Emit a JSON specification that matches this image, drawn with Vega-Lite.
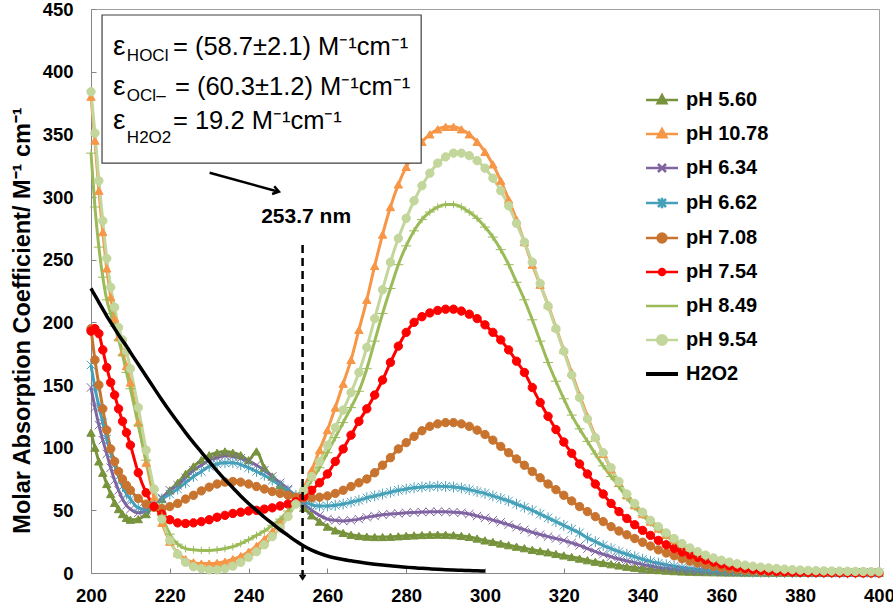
{
"$schema": "https://vega.github.io/schema/vega-lite/v6.json",
"width": 788, "height": 564,
"autosize": {"type": "none"},
"padding": {"left": 91, "top": 9, "right": 14, "bottom": 39},
"background": "white",
"config": {
  "view": {"stroke": "#a0a0a0"},
  "font": "Liberation Sans",
  "axis": {"labelFont": "Liberation Sans", "labelFontWeight": "bold", "labelFontSize": 18.5, "labelColor": "black", "domainColor": "#868686", "tickColor": "#868686", "grid": false, "titleFont": "Liberation Sans"}
},
"datasets": {
"spec": [
{"w":200,"a":112,"b":380,"c":148,"d":166,"e":195,"f":193,"g":335,"h":384,"k":227},
{"w":201,"a":100,"b":345,"c":132,"d":148,"e":170,"f":195,"g":292,"h":351,"k":221.5},
{"w":202,"a":89,"b":305,"c":118,"d":133,"e":150,"f":191,"g":260,"h":313,"k":216},
{"w":203,"a":80,"b":272,"c":106,"d":120,"e":131,"f":178,"g":236,"h":281,"k":210.5},
{"w":204,"a":71,"b":243,"c":95,"d":107,"e":114,"f":164,"g":218,"h":251,"k":205},
{"w":205,"a":63,"b":220,"c":84,"d":96,"e":99,"f":152,"g":207,"h":228,"k":200},
{"w":206,"a":56,"b":203,"c":74,"d":86,"e":89,"f":142,"g":197,"h":212,"k":195},
{"w":207,"a":51,"b":188,"c":66,"d":77,"e":81,"f":131,"g":186,"h":196,"k":190},
{"w":208,"a":47,"b":176,"c":59,"d":69,"e":75,"f":121,"g":174,"h":186,"k":185.5},
{"w":209,"a":44,"b":165,"c":54,"d":63,"e":70,"f":112,"g":160,"h":177,"k":181},
{"w":210,"a":42.5,"b":152,"c":51,"d":59,"e":66,"f":102,"g":147,"h":163,"k":176},
{"w":212,"a":43,"b":120,"c":48,"d":52,"e":59.5,"f":80,"g":118,"h":132,"k":166.5},
{"w":214,"a":47,"b":88,"c":50,"d":51,"e":55,"f":64,"g":90,"h":98,"k":157},
{"w":216,"a":53,"b":60,"c":54,"d":54,"e":52.5,"f":53,"g":66,"h":67,"k":147.5},
{"w":218,"a":59,"b":40,"c":60,"d":59,"e":51.5,"f":47,"g":46,"h":43,"k":138},
{"w":220,"a":66,"b":25,"c":66,"d":63,"e":53,"f":42.5,"g":31,"h":26,"k":129},
{"w":222,"a":72,"b":16,"c":70,"d":67,"e":55.5,"f":40,"g":23,"h":15,"k":120.5},
{"w":224,"a":79,"b":11,"c":76,"d":72,"e":59,"f":39.5,"g":19.5,"h":8.5,"k":112},
{"w":226,"a":85,"b":8.5,"c":82,"d":77,"e":62,"f":40,"g":18.5,"h":5,"k":104},
{"w":228,"a":90,"b":7.5,"c":86,"d":81,"e":65.5,"f":41,"g":18,"h":3.5,"k":96.5},
{"w":230,"a":94,"b":7.5,"c":90,"d":85,"e":68.5,"f":42.5,"g":18,"h":2.5,"k":89},
{"w":232,"a":96,"b":8,"c":92,"d":87,"e":71,"f":44.5,"g":18.5,"h":2.5,"k":81.5},
{"w":234,"a":97,"b":9,"c":93.5,"d":88,"e":72.5,"f":46,"g":19.5,"h":3.5,"k":74.5},
{"w":236,"a":96,"b":11,"c":93,"d":88,"e":73,"f":47.5,"g":21,"h":5.5,"k":68},
{"w":238,"a":94,"b":13.5,"c":91.5,"d":86.5,"e":72.5,"f":48.5,"g":23.5,"h":8.5,"k":61.5},
{"w":240,"a":90,"b":17,"c":89,"d":84,"e":71,"f":49.5,"g":26.5,"h":12.5,"k":55.5},
{"w":242,"a":97,"b":21.5,"c":86,"d":81,"e":69,"f":50,"g":30,"h":17,"k":50},
{"w":244,"a":84,"b":27,"c":82,"d":78,"e":67,"f":51,"g":33.5,"h":22.5,"k":44.5},
{"w":246,"a":77,"b":33,"c":77,"d":74,"e":65,"f":52,"g":38,"h":29,"k":39.5},
{"w":248,"a":70,"b":40,"c":72,"d":70,"e":63.5,"f":53.5,"g":43,"h":36,"k":34.5},
{"w":250,"a":64,"b":48,"c":67,"d":66,"e":62,"f":55,"g":49.5,"h":45,"k":30},
{"w":252,"a":58,"b":58,"c":61,"d":62,"e":60.5,"f":57,"g":56,"h":55,"k":25.5},
{"w":254,"a":52,"b":68,"c":55,"d":57,"e":60,"f":61,"g":64,"h":66,"k":21.5},
{"w":256,"a":46,"b":82,"c":50,"d":54.5,"e":60,"f":66,"g":74,"h":77,"k":18.3},
{"w":258,"a":41,"b":98,"c":46,"d":53.5,"e":60.5,"f":72,"g":84,"h":89,"k":15.7},
{"w":260,"a":37,"b":114,"c":43,"d":53.5,"e":61.5,"f":79,"g":96,"h":102,"k":13.6},
{"w":262,"a":34,"b":132,"c":42,"d":54,"e":63.5,"f":89,"g":108,"h":116,"k":12},
{"w":264,"a":32,"b":151,"c":41.5,"d":55,"e":66,"f":99,"g":120,"h":130,"k":10.7},
{"w":266,"a":30.5,"b":170,"c":42,"d":56.5,"e":69,"f":110,"g":132,"h":144,"k":9.7},
{"w":268,"a":29.5,"b":194,"c":43,"d":58,"e":72,"f":121,"g":145,"h":160,"k":8.7},
{"w":270,"a":29,"b":218,"c":44.5,"d":60,"e":75,"f":131,"g":163,"h":180,"k":7.8},
{"w":272,"a":28.7,"b":245,"c":45.5,"d":61.5,"e":80,"f":142,"g":185,"h":203,"k":7},
{"w":274,"a":28.7,"b":270,"c":46.5,"d":63,"e":86,"f":154,"g":207,"h":226,"k":6.3},
{"w":276,"a":28.9,"b":292,"c":47,"d":64.5,"e":92,"f":168,"g":227,"h":248,"k":5.7},
{"w":278,"a":29.3,"b":310,"c":47.5,"d":66,"e":99,"f":181,"g":246,"h":267,"k":5.1},
{"w":280,"a":29.7,"b":324,"c":48,"d":67,"e":104,"f":192,"g":261,"h":283,"k":4.6},
{"w":282,"a":30,"b":335,"c":48.3,"d":68,"e":109,"f":200,"g":273,"h":297,"k":4.1},
{"w":284,"a":30.3,"b":344,"c":48.6,"d":68.6,"e":113.5,"f":204.5,"g":282,"h":309,"k":3.7},
{"w":286,"a":30.5,"b":350,"c":48.8,"d":69,"e":117,"f":207.5,"g":288,"h":319,"k":3.3},
{"w":288,"a":30.6,"b":354,"c":48.9,"d":69.2,"e":119,"f":209.5,"g":292,"h":327,"k":2.9},
{"w":290,"a":30.5,"b":356,"c":48.8,"d":69,"e":120,"f":210.5,"g":294,"h":332,"k":2.6},
{"w":292,"a":30.2,"b":356,"c":48.5,"d":68.6,"e":120,"f":210.5,"g":294,"h":335,"k":2.3},
{"w":294,"a":29.6,"b":354,"c":48,"d":67.8,"e":119,"f":209,"g":292,"h":335,"k":2.1},
{"w":296,"a":28.8,"b":350,"c":47,"d":66.5,"e":117,"f":206.5,"g":288,"h":333,"k":1.9},
{"w":298,"a":27.5,"b":344,"c":45.5,"d":65,"e":114,"f":203,"g":283,"h":329,"k":1.7},
{"w":300,"a":26,"b":336,"c":44,"d":63.5,"e":110.5,"f":198,"g":276,"h":323,"k":1.5},
{"w":302,"a":24.8,"b":326,"c":42.2,"d":61.5,"e":106,"f":192,"g":268,"h":315},
{"w":304,"a":23.5,"b":313,"c":40.5,"d":59.5,"e":101,"f":186,"g":258,"h":305},
{"w":306,"a":22.2,"b":298,"c":38.5,"d":57.5,"e":96,"f":178,"g":246,"h":293},
{"w":308,"a":21,"b":282,"c":36.5,"d":55,"e":91,"f":169,"g":232,"h":279},
{"w":310,"a":19.8,"b":264,"c":34.5,"d":52.5,"e":86,"f":160,"g":218,"h":264},
{"w":312,"a":18.5,"b":246,"c":32.5,"d":50,"e":81,"f":148,"g":202,"h":248},
{"w":314,"a":17.5,"b":230,"c":30.7,"d":47,"e":76,"f":136,"g":185,"h":231},
{"w":316,"a":16.5,"b":214,"c":29,"d":44,"e":71,"f":125,"g":168,"h":213},
{"w":318,"a":15.2,"b":196,"c":27.5,"d":41,"e":66.5,"f":114.5,"g":153,"h":195},
{"w":320,"a":14,"b":178,"c":26,"d":38,"e":62,"f":104.5,"g":139,"h":177},
{"w":322,"a":12.8,"b":160,"c":24,"d":35,"e":57.5,"f":95.5,"g":126,"h":158},
{"w":324,"a":11.5,"b":142,"c":22,"d":32,"e":53,"f":87,"g":115,"h":140},
{"w":326,"a":10.2,"b":125,"c":19.5,"d":28,"e":49,"f":79,"g":105,"h":123},
{"w":328,"a":9,"b":109,"c":17,"d":25,"e":45,"f":71,"g":95,"h":108},
{"w":330,"a":8,"b":95,"c":15,"d":22,"e":41,"f":63,"g":85.5,"h":96},
{"w":332,"a":7,"b":83,"c":13,"d":19.5,"e":37,"f":55.5,"g":77,"h":84},
{"w":334,"a":6,"b":72,"c":11.2,"d":17,"e":33.5,"f":49,"g":69,"h":73},
{"w":336,"a":5,"b":62,"c":9.6,"d":15,"e":30.5,"f":43.5,"g":60,"h":63},
{"w":338,"a":4.2,"b":54,"c":8.2,"d":13,"e":27.5,"f":38.5,"g":52.5,"h":55.5},
{"w":340,"a":3.5,"b":47,"c":6.8,"d":11,"e":24.5,"f":34,"g":46,"h":48.5},
{"w":342,"a":2.9,"b":41,"c":5.6,"d":9.3,"e":21.5,"f":30,"g":40,"h":42},
{"w":344,"a":2.3,"b":35.5,"c":4.5,"d":7.8,"e":18.5,"f":26,"g":34.5,"h":37},
{"w":346,"a":1.9,"b":30.5,"c":3.7,"d":6.5,"e":16,"f":22.5,"g":29.5,"h":32},
{"w":348,"a":1.5,"b":26,"c":3,"d":5.4,"e":13.7,"f":19.5,"g":25,"h":27.5},
{"w":350,"a":1.2,"b":22,"c":2.4,"d":4.4,"e":11.4,"f":16.8,"g":21,"h":23.5},
{"w":352,"a":1,"b":18.8,"c":2,"d":3.6,"e":9.5,"f":14.5,"g":17.8,"h":20},
{"w":354,"a":0.8,"b":16,"c":1.6,"d":3,"e":8,"f":12.5,"g":15,"h":17},
{"w":356,"a":0.7,"b":13.5,"c":1.3,"d":2.4,"e":6.6,"f":10.5,"g":12.6,"h":14.3},
{"w":358,"a":0.6,"b":11.3,"c":1.1,"d":2,"e":5.3,"f":8.8,"g":10.5,"h":12},
{"w":360,"a":0.5,"b":9.5,"c":0.9,"d":1.6,"e":4.3,"f":7.2,"g":8.7,"h":10.2},
{"w":362,"a":0.4,"b":8,"c":0.7,"d":1.3,"e":3.4,"f":5.8,"g":7.2,"h":8.7},
{"w":364,"a":0.4,"b":6.7,"c":0.6,"d":1.1,"e":2.7,"f":4.6,"g":6,"h":7.4},
{"w":366,"a":0.3,"b":5.6,"c":0.5,"d":0.9,"e":2.1,"f":3.7,"g":5,"h":6.3},
{"w":368,"a":0.3,"b":4.7,"c":0.4,"d":0.7,"e":1.7,"f":2.9,"g":4.1,"h":5.4},
{"w":370,"a":0.3,"b":4,"c":0.4,"d":0.6,"e":1.3,"f":2.2,"g":3.4,"h":4.7},
{"w":372,"a":0.2,"b":3.4,"c":0.3,"d":0.5,"e":1,"f":1.7,"g":2.8,"h":4.1},
{"w":374,"a":0.2,"b":2.9,"c":0.3,"d":0.4,"e":0.8,"f":1.3,"g":2.3,"h":3.6},
{"w":376,"a":0.2,"b":2.5,"c":0.2,"d":0.4,"e":0.6,"f":1,"g":1.9,"h":3.1},
{"w":378,"a":0.2,"b":2.1,"c":0.2,"d":0.3,"e":0.5,"f":0.8,"g":1.6,"h":2.7},
{"w":380,"a":0.2,"b":1.8,"c":0.2,"d":0.3,"e":0.4,"f":0.6,"g":1.3,"h":2.4},
{"w":382,"a":0.1,"b":1.6,"c":0.1,"d":0.2,"e":0.3,"f":0.5,"g":1.1,"h":2.1},
{"w":384,"a":0.1,"b":1.4,"c":0.1,"d":0.2,"e":0.3,"f":0.4,"g":1,"h":1.9},
{"w":386,"a":0.1,"b":1.2,"c":0.1,"d":0.2,"e":0.3,"f":0.3,"g":0.9,"h":1.7},
{"w":388,"a":0.1,"b":1.1,"c":0.1,"d":0.2,"e":0.2,"f":0.3,"g":0.8,"h":1.6},
{"w":390,"a":0.1,"b":1,"c":0.1,"d":0.1,"e":0.2,"f":0.2,"g":0.7,"h":1.5},
{"w":392,"a":0.1,"b":0.9,"c":0.1,"d":0.1,"e":0.2,"f":0.2,"g":0.6,"h":1.4},
{"w":394,"a":0.1,"b":0.8,"c":0.1,"d":0.1,"e":0.2,"f":0.2,"g":0.6,"h":1.3},
{"w":396,"a":0.1,"b":0.8,"c":0.1,"d":0.1,"e":0.1,"f":0.1,"g":0.5,"h":1.2},
{"w":398,"a":0.1,"b":0.7,"c":0.1,"d":0.1,"e":0.1,"f":0.1,"g":0.5,"h":1.1},
{"w":400,"a":0.1,"b":0.7,"c":0.1,"d":0.1,"e":0.1,"f":0.1,"g":0.4,"h":1}
]
},
"layer": [
{
  "data": {"name": "spec"},
  "transform": [
    {"fold": ["a","b","c","d","e","f","g","h","k"], "as": ["key","v"]},
    {"filter": "isValid(datum.v)"}
  ],
  "layer": [
    {
      "transform": [{"filter": "datum.key !== 'k'"}],
      "mark": {"type": "line", "strokeWidth": 3, "interpolate": "monotone"},
      "encoding": {
        "x": {"field": "w", "type": "quantitative", "scale": {"domain": [200,400], "nice": false, "zero": false},
              "axis": {"values": [200,220,240,260,280,300,320,340,360,380,400], "tickSize": -5, "labelPadding": 18, "title": null, "labelFlush": false}},
        "y": {"field": "v", "type": "quantitative", "scale": {"domain": [0,450], "nice": false},
              "axis": {"values": [0,50,100,150,200,250,300,350,400,450], "tickSize": -5, "labelPadding": 23,
                       "title": "Molar Absorption Coefficient/ M⁻¹ cm⁻¹", "titleFontSize": 23.5, "titleFontWeight": "bold", "titleColor": "black",
                       "titleX": -69, "titleY": 311, "titleAngle": -90, "titleAlign": "center", "titleBaseline": "middle"}},
        "color": {"field": "key", "type": "nominal",
          "scale": {"domain": ["a","b","c","d","e","f","g","h","k"], "range": ["#77933C","#F79646","#8064A2","#45A0B9","#C8742F","#FF0000","#9BBB59","#C3D69B","#000000"]},
          "legend": {
            "orient": "none", "legendX": 561, "legendY": 81, "title": null, "padding": 0,
            "labelFont": "Liberation Sans", "labelFontSize": 20, "labelFontWeight": "bold", "labelColor": "black",
            "symbolSize": 64, "rowPadding": 14, "labelOffset": 14,
            "labelExpr": "datum.label==='a'?'pH 5.60':datum.label==='b'?'pH 10.78':datum.label==='c'?'pH 6.34':datum.label==='d'?'pH 6.62':datum.label==='e'?'pH 7.08':datum.label==='f'?'pH 7.54':datum.label==='g'?'pH 8.49':datum.label==='h'?'pH 9.54':'H2O2'",
            "encode": {"symbols": {"update": {
              "shape": {"signal": "(datum.value==='a'||datum.value==='b') ? 'M-4,0H4M0,-1.2L1.1,0.8L-1.1,0.8Z' : datum.value==='c' ? 'M-4,0H4M-1,-1L1,1M-1,1L1,-1' : datum.value==='d' ? 'M-4,0H4M-1,-1L1,1M-1,1L1,-1M0,-1.3L0,1.3' : datum.value==='e' ? 'M-4,0H4M1.1,0A1.1,1.1,0,1,1,-1.1,0A1.1,1.1,0,1,1,1.1,0Z' : datum.value==='f' ? 'M-4,0H4M0.75,0A0.75,0.75,0,1,1,-0.75,0A0.75,0.75,0,1,1,0.75,0Z' : datum.value==='h' ? 'M-4,0H4M1.2,0A1.2,1.2,0,1,1,-1.2,0A1.2,1.2,0,1,1,1.2,0Z' : 'M-4,0H4'"},
              "fill": {"scale": "color", "field": "value"},
              "stroke": {"scale": "color", "field": "value"},
              "strokeWidth": {"signal": "datum.value==='k' ? 4 : 2.5"},
              "opacity": {"value": 1}
            }}}
          }}
      }
    },
    {
      "transform": [{"filter": "datum.key !== 'k'"}],
      "mark": {"type": "point", "filled": true, "opacity": 1},
      "encoding": {
        "x": {"field": "w", "type": "quantitative"},
        "y": {"field": "v", "type": "quantitative"},
        "color": {"field": "key", "type": "nominal"},
        "stroke": {"field": "key", "type": "nominal", "legend": null,
          "scale": {"domain": ["a","b","c","d","e","f","g","h"], "range": ["#77933C","#F79646","#8064A2","#45A0B9","#C8742F","#FF0000","#9BBB59","#C3D69B"]}},
        "shape": {"field": "key", "type": "nominal", "legend": null,
          "scale": {"domain": ["a","b","c","d","e","f","g","h"], "range": ["triangle-up","triangle-up","M-1,-1L1,1M-1,1L1,-1","M-1,-1L1,1M-1,1L1,-1M0,-1.3L0,1.3","circle","circle","M-1.2,0L1.2,0M0,-0.9L0,0.9","circle"]}},
        "size": {"field": "key", "type": "ordinal", "legend": null,
          "scale": {"domain": ["a","b","c","d","e","f","g","h"], "range": [70,70,55,55,85,36,55,100]}},
        "strokeWidth": {"field": "key", "type": "ordinal", "legend": null,
          "scale": {"domain": ["a","b","c","d","e","f","g","h"], "range": [1,1,1.6,1.6,1,1,1.6,1]}},
        "order": {"field": "key", "type": "ordinal"}
      }
    },
    {
      "transform": [{"filter": "datum.key === 'k'"}],
      "mark": {"type": "line", "strokeWidth": 3.5, "interpolate": "monotone"},
      "encoding": {
        "x": {"field": "w", "type": "quantitative"},
        "y": {"field": "v", "type": "quantitative"},
        "color": {"field": "key", "type": "nominal"}
      }
    }
  ]
},
{
  "data": {"values": [{"x1": 202.8, "x2": 283.8, "y1": 327.1, "y2": 445.2}]},
  "mark": {"type": "rect", "fill": "white", "stroke": "#404040", "strokeWidth": 1.2},
  "encoding": {"x": {"field": "x1", "type": "quantitative"}, "x2": {"field": "x2"}, "y": {"field": "y1", "type": "quantitative"}, "y2": {"field": "y2"}}
},
{
  "data": {"values": [{"x": 205.6, "y": 413.3, "t": "ε"}, {"x": 205.6, "y": 381.4, "t": "ε"}, {"x": 205.6, "y": 354, "t": "ε"}]},
  "mark": {"type": "text", "align": "left", "baseline": "alphabetic", "fontSize": 28, "font": "Liberation Sans", "color": "black"},
  "encoding": {"x": {"field": "x", "type": "quantitative"}, "y": {"field": "y", "type": "quantitative"}, "text": {"field": "t"}}
},
{
  "data": {"values": [{"x": 209.1, "y": 408.8, "t": "HOCl"}, {"x": 209.1, "y": 376.8, "t": "OCl–"}, {"x": 209.1, "y": 342.9, "t": "H2O2"}]},
  "mark": {"type": "text", "align": "left", "baseline": "alphabetic", "fontSize": 17, "font": "Liberation Sans", "color": "black"},
  "encoding": {"x": {"field": "x", "type": "quantitative"}, "y": {"field": "y", "type": "quantitative"}, "text": {"field": "t"}}
},
{
  "data": {"values": [{"x": 220.8, "y": 413.3, "t": "= (58.7±2.1) M⁻¹cm⁻¹"}, {"x": 221.3, "y": 381.4, "t": "= (60.3±1.2) M⁻¹cm⁻¹"}, {"x": 220.8, "y": 354, "t": "= 19.2 M⁻¹cm⁻¹"}]},
  "mark": {"type": "text", "align": "left", "baseline": "alphabetic", "fontSize": 25.5, "font": "Liberation Sans", "color": "black"},
  "encoding": {"x": {"field": "x", "type": "quantitative"}, "y": {"field": "y", "type": "quantitative"}, "text": {"field": "t"}}
},
{
  "data": {"values": [{"x": 230.1, "y": 319.4, "x2": 247.6, "y2": 304.2}]},
  "mark": {"type": "rule", "strokeWidth": 2.5, "color": "black"},
  "encoding": {"x": {"field": "x", "type": "quantitative"}, "y": {"field": "y", "type": "quantitative"}, "x2": {"field": "x2"}, "y2": {"field": "y2"}}
},
{
  "data": {"values": [{"x": 247.7, "y": 304.2}]},
  "mark": {"type": "point", "shape": "M-1.2,-0.8L0,0L-1.2,0.8", "size": 100, "angle": 15.3, "filled": false, "stroke": "black", "strokeWidth": 2.5, "opacity": 1},
  "encoding": {"x": {"field": "x", "type": "quantitative"}, "y": {"field": "y", "type": "quantitative"}}
},
{
  "data": {"values": [{"x": 253.7, "y": 261.7, "y2": -3}]},
  "mark": {"type": "rule", "strokeWidth": 2.5, "strokeDash": [8, 5], "color": "black"},
  "encoding": {"x": {"field": "x", "type": "quantitative"}, "y": {"field": "y", "type": "quantitative"}, "y2": {"field": "y2"}}
},
{
  "data": {"values": [{"x": 253.7, "y": -4.8}]},
  "mark": {"type": "point", "shape": "M-0.8,-1.2L0,0L0.8,-1.2", "size": 49, "filled": false, "stroke": "black", "strokeWidth": 2, "opacity": 1},
  "encoding": {"x": {"field": "x", "type": "quantitative"}, "y": {"field": "y", "type": "quantitative"}}
},
{
  "data": {"values": [{"x": 254.6, "y": 279, "t": "253.7 nm"}]},
  "mark": {"type": "text", "align": "center", "baseline": "alphabetic", "fontSize": 21, "fontWeight": "bold", "font": "Liberation Sans", "color": "black"},
  "encoding": {"x": {"field": "x", "type": "quantitative"}, "y": {"field": "y", "type": "quantitative"}, "text": {"field": "t"}}
},
{
  "mark": {"type": "rule", "color": "#404040", "strokeWidth": 1.5},
  "encoding": {"y": {"datum": 450}, "x": {"datum": 200}, "x2": {"datum": 400}}
}
]
}
